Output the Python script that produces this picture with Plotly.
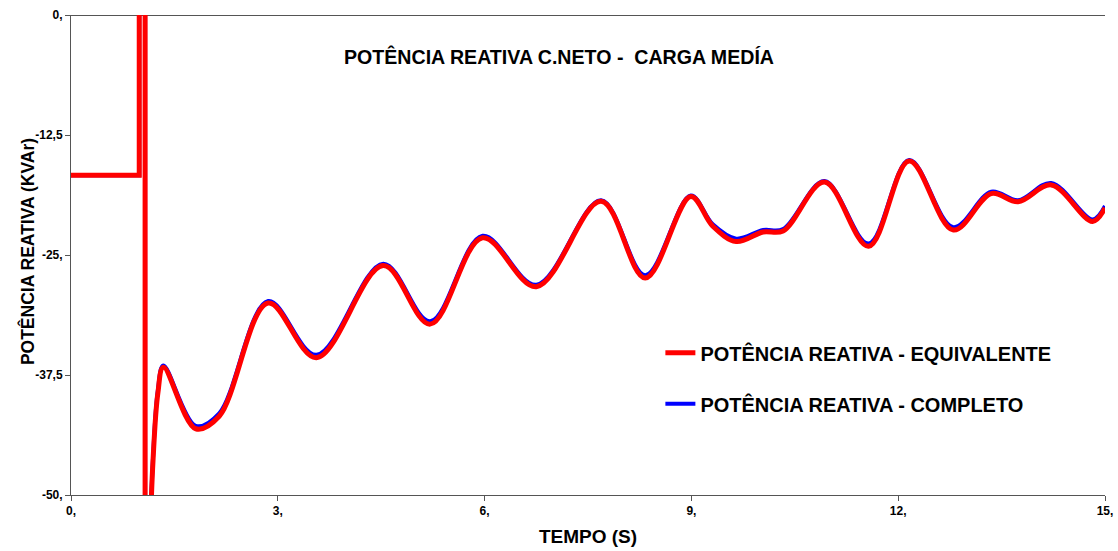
import plotly.graph_objects as go

# ---- data ----
step_x = [0.0, 0.99, 0.99, 1.075, 1.075]
step_y = [-16.7, -16.7, 3.0, 3.0, -60.0]

time_s = [1.13, 1.19, 1.26, 1.34, 1.81, 2.15, 2.86, 3.56,
          4.53, 5.21, 5.97, 6.75, 7.69, 8.33, 8.99, 9.31, 9.65, 10.04, 10.33,
          10.93, 11.57, 12.16, 12.8, 13.35, 13.74, 14.22, 14.82, 15.0]

q_equivalente = [-58.0, -46.4, -39.4, -36.7, -43.1, -41.8, -30.0, -35.7,
                 -26.1, -32.2, -23.2, -28.3, -19.4, -27.4, -18.9, -22.0, -23.6, -22.6, -22.5,
                 -17.4, -24.1, -15.2, -22.4, -18.6, -19.45, -17.7, -21.5, -20.1]

q_completo = [-57.8, -46.1, -39.1, -36.5, -42.8, -41.5, -29.8, -35.4,
              -25.9, -31.9, -23.0, -28.1, -19.3, -27.1, -18.8, -21.8, -23.3, -22.4, -22.3,
              -17.3, -23.8, -15.1, -22.1, -18.4, -19.3, -17.5, -21.3, -19.9]

x_ticks = [0, 3, 6, 9, 12, 15]
x_ticktext = ["0,", "3,", "6,", "9,", "12,", "15,"]
y_ticks = [0, -12.5, -25, -37.5, -50]
y_ticktext = ["0,", "-12,5", "-25,", "-37,5", "-50,"]

RED = "#ff0000"
BLUE = "#0000ff"
FONT = "Liberation Sans, Arial, sans-serif"

fig = go.Figure()

# blue drawn first (underneath), red on top
fig.add_trace(go.Scatter(x=step_x, y=step_y, mode="lines",
                         line=dict(color=BLUE, width=4), showlegend=False,
                         legendgroup="b", hoverinfo="skip"))
fig.add_trace(go.Scatter(x=time_s, y=q_completo, mode="lines",
                         line=dict(color=BLUE, width=4, shape="spline", smoothing=1.0),
                         name="POTÊNCIA REATIVA - COMPLETO", legendgroup="b", legendrank=2))
fig.add_trace(go.Scatter(x=step_x, y=step_y, mode="lines",
                         line=dict(color=RED, width=5), showlegend=False,
                         legendgroup="r", hoverinfo="skip"))
fig.add_trace(go.Scatter(x=time_s, y=q_equivalente, mode="lines",
                         line=dict(color=RED, width=5, shape="spline", smoothing=1.0),
                         name="POTÊNCIA REATIVA - EQUIVALENTE", legendgroup="r", legendrank=1))

axis_common = dict(
    showgrid=False, automargin=False,
    showline=True, linecolor="#555555", linewidth=1,
    ticks="outside", ticklen=5, tickcolor="#555555",
    tickfont=dict(family=FONT, size=12, color="#000000", weight="bold"),
)

fig.update_xaxes(range=[0, 15], tickvals=x_ticks, ticktext=x_ticktext,
                 zeroline=False,
                 title=dict(text="TEMPO (S)", standoff=12,
                            font=dict(family=FONT, size=19, color="#000000", weight="bold")),
                 **axis_common)
fig.update_yaxes(range=[-50, 0], tickvals=y_ticks, ticktext=y_ticktext,
                 zeroline=True, zerolinecolor="#555555", zerolinewidth=1,
                 **axis_common)

fig.add_annotation(text="POTÊNCIA REATIVA (KVAr)", textangle=-90,
                   xref="paper", yref="paper", x=-0.0426, y=0.508,
                   xanchor="center", yanchor="middle", showarrow=False,
                   font=dict(family=FONT, size=17.5, color="#000000", weight="bold"))

fig.update_layout(
    width=1118, height=551,
    paper_bgcolor="#ffffff", plot_bgcolor="#ffffff",
    margin=dict(l=71, r=13, t=15, b=56),
    title=dict(text="POTÊNCIA REATIVA C.NETO -  CARGA MEDÍA",
               x=0.5, xanchor="center", y=1 - 57 / 551, yanchor="middle",
               font=dict(family=FONT, size=19.6, color="#000000", weight="bold")),
    legend=dict(x=0.57, y=0.337, xanchor="left", yanchor="top",
                bgcolor="rgba(255,255,255,0)", traceorder="grouped", tracegroupgap=22,
                font=dict(family=FONT, size=20, color="#000000", weight="bold")),
    showlegend=True,
)

fig.write_html("out.html", config={"displayModeBar": False},
               post_script="document.body.style.margin='0px';document.body.style.overflow='hidden';")
